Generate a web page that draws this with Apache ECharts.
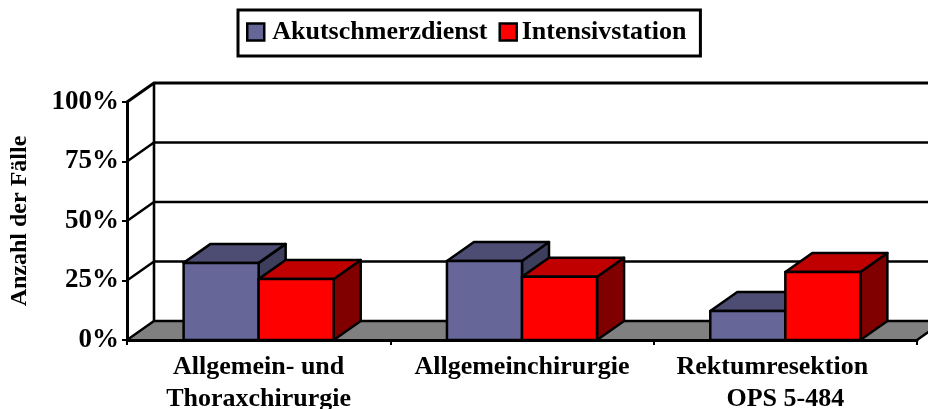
<!DOCTYPE html>
<html>
<head>
<meta charset="utf-8">
<style>
  html, body { margin: 0; padding: 0; background: #fff; }
  #chart { width: 928px; height: 409px; }
</style>
<script src="https://cdn.jsdelivr.net/npm/echarts@6/dist/echarts.min.js"></script>
</head>
<body>
<div id="chart"></div>
<script>
const categories = ['Allgemein- und\nThoraxchirurgie', 'Allgemeinchirurgie', 'Rektumresektion    \nOPS 5-484'];
const akutschmerzdienst = [32.4, 33.2, 12.2];
const intensivstation = [25.6, 26.6, 28.6];
const yTicks = [0, 25, 50, 75, 100];

const chart = echarts.init(document.getElementById('chart'));

// perspective offset of the fake 3d box, in px
const depthX = 27;
const depthY = 19;
const serifBold = { fontFamily: 'Liberation Serif', fontWeight: 'bold', color: '#000' };

// back wall, side wall and floor
function renderFrame(params, api) {
  const v = api.value(0);
  const box = params.coordSys;
  const y = api.coord([0, v])[1];
  const left = [box.x, y];
  const right = [box.x + box.width, y];
  const line = { stroke: '#000', lineWidth: v === 100 ? 3 : 2.4, fill: null };
  const children = [];
  if (v === 0) {
    children.push({
      type: 'polygon',
      shape: { points: [left, right, [right[0] + depthX, y - depthY], [left[0] + depthX, y - depthY]] },
      style: { fill: '#808080' }
    });
    children.push({
      type: 'line',
      shape: { x1: left[0] + depthX, y1: y - depthY, x2: left[0] + depthX, y2: api.coord([0, 100])[1] - depthY },
      style: { stroke: '#000', lineWidth: 2.6 }
    });
    children.push({
      type: 'line',
      shape: { x1: right[0], y1: y, x2: right[0] + depthX, y2: y - depthY },
      style: { stroke: '#000', lineWidth: 2.4 }
    });
  }
  children.push({
    type: 'polyline',
    shape: { points: [left, [left[0] + depthX, y - depthY], [right[0] + depthX, y - depthY]] },
    style: line
  });
  return { type: 'group', children: children };
}

function barRenderer(offset, front, top, side) {
  return function (params, api) {
    const bw = api.size([1, 0])[0] * 0.285;
    const foot = api.coord([api.value(0), 0]);
    const head = api.coord([api.value(0), api.value(1)]);
    const x0 = foot[0] + offset * bw;
    const x1 = x0 + bw;
    const y0 = foot[1];
    const y1 = head[1];
    const edge = { stroke: '#000', lineWidth: 2.5, lineJoin: 'round' };
    return {
      type: 'group',
      children: [
        {
          type: 'polygon',
          shape: { points: [[x1, y0], [x1 + depthX, y0 - depthY], [x1 + depthX, y1 - depthY], [x1, y1]] },
          style: Object.assign({ fill: side }, edge)
        },
        {
          type: 'polygon',
          shape: { points: [[x0, y1], [x1, y1], [x1 + depthX, y1 - depthY], [x0 + depthX, y1 - depthY]] },
          style: Object.assign({ fill: top }, edge)
        },
        {
          type: 'polygon',
          shape: { points: [[x0, y0], [x1, y0], [x1, y1], [x0, y1]] },
          style: Object.assign({ fill: front }, edge)
        }
      ]
    };
  };
}

const option = {
  animation: false,
  backgroundColor: '#fff',
  legend: {
    left: 238,
    top: 10,
    icon: 'rect',
    itemWidth: 17,
    itemHeight: 17,
    itemGap: 11,
    padding: [9, 14, 11, 8],
    borderColor: '#000',
    borderWidth: 3,
    itemStyle: { borderColor: '#000', borderWidth: 2.5 },
    textStyle: Object.assign({ fontSize: 26 }, serifBold),
    data: [
      { name: 'Akutschmerzdienst', textStyle: { padding: [0, 0, 0, 3] } },
      { name: 'Intensivstation' }
    ]
  },
  grid: { left: 127, top: 102, width: 790, height: 238, outerBoundsMode: 'none' },
  xAxis: {
    type: 'category',
    data: categories,
    z: 1,
    axisLine: { lineStyle: { color: '#000', width: 3 } },
    axisTick: { show: true, length: 5, lineStyle: { color: '#000', width: 2 } },
    axisLabel: Object.assign({ fontSize: 26, lineHeight: 32, margin: 11, interval: 0 }, serifBold)
  },
  yAxis: {
    type: 'value',
    min: 0,
    max: 100,
    interval: 25,
    name: 'Anzahl der Fälle',
    nameLocation: 'middle',
    nameGap: 95,
    nameTextStyle: Object.assign({ fontSize: 24 }, serifBold),
    z: 1,
    splitLine: { show: false },
    axisLine: { show: true, lineStyle: { color: '#000', width: 3 } },
    axisTick: { show: true, length: 5, lineStyle: { color: '#000', width: 2 } },
    axisLabel: Object.assign({ fontSize: 27, margin: 8, padding: [3, 0, 0, 0], formatter: '{value}%' }, serifBold)
  },
  series: [
    {
      type: 'custom',
      z: 0,
      silent: true,
      clip: false,
      renderItem: renderFrame,
      encode: { y: 0 },
      data: yTicks
    },
    {
      name: 'Akutschmerzdienst',
      type: 'custom',
      z: 2,
      clip: false,
      itemStyle: { color: '#666699' },
      renderItem: barRenderer(-1, '#666699', '#4d4d73', '#3d3d5c'),
      encode: { x: 0, y: 1 },
      data: akutschmerzdienst.map((v, i) => [i, v])
    },
    {
      name: 'Intensivstation',
      type: 'custom',
      z: 3,
      clip: false,
      itemStyle: { color: '#ff0000' },
      renderItem: barRenderer(0, '#ff0000', '#c00000', '#800000'),
      encode: { x: 0, y: 1 },
      data: intensivstation.map((v, i) => [i, v])
    }
  ]
};

chart.setOption(option);
</script>
</body>
</html>
